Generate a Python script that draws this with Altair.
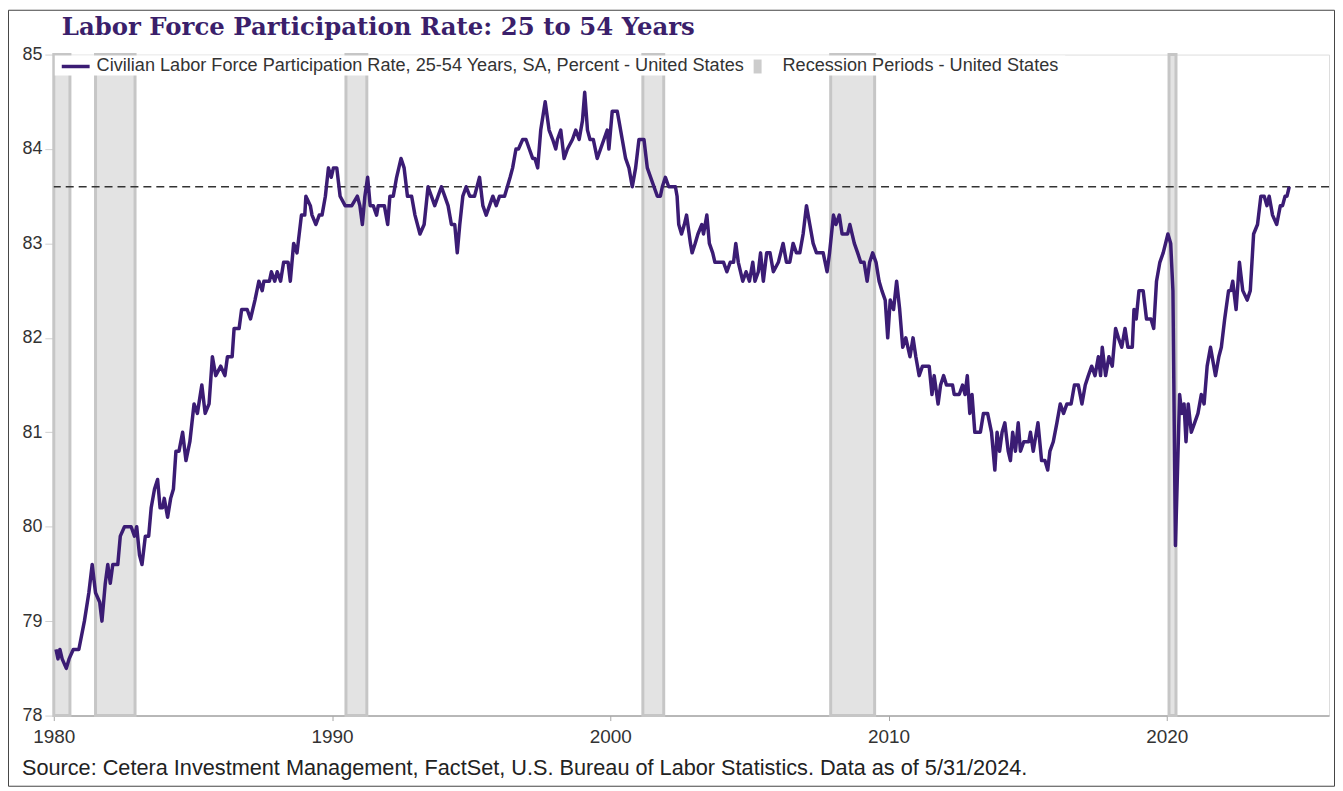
import altair as alt
import pandas as pd

# ---------------- data ----------------
TITLE = "Labor Force Participation Rate: 25 to 54 Years"
SERIES_NAME = "Civilian Labor Force Participation Rate, 25-54  Years, SA, Percent - United States"
REC_NAME = "Recession Periods - United States"
SOURCE = "Source: Cetera Investment Management, FactSet, U.S. Bureau of Labor Statistics.  Data as of 5/31/2024."

years = [
    1980.08, 1980.15, 1980.22, 1980.30, 1980.45, 1980.55, 1980.70, 1980.90,
    1981.10, 1981.26, 1981.38, 1981.50, 1981.65, 1981.73, 1981.85, 1981.94,
    1982.03, 1982.12, 1982.30, 1982.39, 1982.54, 1982.78, 1982.90, 1982.98,
    1983.08, 1983.17, 1983.29, 1983.41, 1983.50, 1983.62, 1983.73, 1983.82, 1983.91, 1983.97,
    1984.09, 1984.20, 1984.30, 1984.39, 1984.50, 1984.63, 1984.75, 1984.89,
    1985.04, 1985.16, 1985.32, 1985.44, 1985.58, 1985.70, 1985.82,
    1986.00, 1986.15, 1986.24, 1986.41, 1986.48, 1986.66, 1986.75, 1986.95,
    1987.07, 1987.23, 1987.37, 1987.49, 1987.55, 1987.75, 1987.82, 1987.94,
    1988.03, 1988.15, 1988.26, 1988.42, 1988.50, 1988.62, 1988.74, 1988.90,
    1989.02, 1989.06, 1989.22, 1989.28, 1989.42, 1989.54, 1989.64, 1989.76, 1989.87, 1989.97,
    1990.05, 1990.17, 1990.29, 1990.47, 1990.71, 1990.91,
    1991.00, 1991.09, 1991.18, 1991.28, 1991.37, 1991.48, 1991.60, 1991.66, 1991.88,
    1992.00, 1992.08, 1992.20, 1992.32, 1992.48, 1992.59, 1992.71, 1992.86, 1992.98,
    1993.16, 1993.31, 1993.45, 1993.57, 1993.69, 1993.81, 1993.93,
    1994.05, 1994.17, 1994.29, 1994.41, 1994.50, 1994.59, 1994.70, 1994.82, 1994.95,
    1995.12, 1995.30, 1995.42, 1995.54, 1995.66, 1995.78, 1995.90,
    1996.02, 1996.20, 1996.30, 1996.40, 1996.49, 1996.61, 1996.70, 1996.85, 1996.97,
    1997.09, 1997.21, 1997.29, 1997.39, 1997.50, 1997.66, 1997.80, 1997.93,
    1998.04, 1998.10, 1998.22, 1998.34, 1998.46, 1998.64, 1998.76, 1998.88,
    1999.00, 1999.08, 1999.18, 1999.27, 1999.39, 1999.53, 1999.65, 1999.77, 1999.89, 1999.95,
    2000.07, 2000.25, 2000.31, 2000.43, 2000.55, 2000.67, 2000.79, 2000.91,
    2001.03, 2001.21, 2001.33, 2001.45, 2001.57, 2001.69, 2001.80, 2001.87, 2001.98,
    2002.10, 2002.22, 2002.34, 2002.40, 2002.46, 2002.56, 2002.66, 2002.74, 2002.88, 2002.94,
    2003.05, 2003.15, 2003.29, 2003.35, 2003.47, 2003.56, 2003.68, 2003.76, 2003.94,
    2004.07, 2004.19, 2004.31, 2004.43, 2004.51, 2004.60, 2004.76, 2004.88,
    2005.00, 2005.12, 2005.20, 2005.32, 2005.40, 2005.50, 2005.62, 2005.74, 2005.86,
    2006.04, 2006.21, 2006.33, 2006.45, 2006.57, 2006.69, 2006.81, 2006.93,
    2007.05, 2007.17, 2007.29, 2007.41, 2007.53, 2007.65, 2007.79, 2007.88,
    2008.02, 2008.11, 2008.23, 2008.33, 2008.53, 2008.61, 2008.77, 2008.89,
    2009.00, 2009.12, 2009.23, 2009.32, 2009.43, 2009.55, 2009.66, 2009.76, 2009.88, 2009.97,
    2010.06, 2010.18, 2010.29, 2010.40, 2010.51, 2010.62, 2010.77, 2010.88, 2010.98,
    2011.10, 2011.22, 2011.46, 2011.56, 2011.64, 2011.78, 2011.87, 2011.98,
    2012.08, 2012.30, 2012.36, 2012.54, 2012.66, 2012.75, 2012.83, 2012.92,
    2013.00, 2013.10, 2013.30, 2013.41, 2013.56, 2013.70, 2013.82, 2013.90, 2013.99,
    2014.08, 2014.18, 2014.30, 2014.38, 2014.46, 2014.56, 2014.66, 2014.74, 2014.86,
    2015.04, 2015.10, 2015.20, 2015.37, 2015.50, 2015.62, 2015.72, 2015.80, 2015.92,
    2016.05, 2016.17, 2016.29, 2016.41, 2016.56, 2016.68, 2016.82, 2016.95,
    2017.07, 2017.18, 2017.30, 2017.42, 2017.54, 2017.62, 2017.68, 2017.80, 2017.92,
    2018.04, 2018.16, 2018.26, 2018.38, 2018.50, 2018.60, 2018.76, 2018.82, 2018.90,
    2019.00, 2019.15, 2019.27, 2019.43, 2019.53, 2019.63, 2019.75, 2019.87,
    2020.04, 2020.14, 2020.22, 2020.31, 2020.46, 2020.54, 2020.62, 2020.69, 2020.77, 2020.88,
    2021.00, 2021.12, 2021.24, 2021.34, 2021.45, 2021.57, 2021.75, 2021.87, 2021.96,
    2022.08, 2022.22, 2022.30, 2022.37, 2022.49, 2022.61, 2022.73, 2022.89,
    2023.00, 2023.12, 2023.26, 2023.38, 2023.50, 2023.60, 2023.68, 2023.80, 2023.95,
    2024.08, 2024.16, 2024.25, 2024.32, 2024.40,
]

rates = [
    78.7, 78.6, 78.7, 78.6, 78.5, 78.6, 78.7, 78.7,
    79.0, 79.3, 79.6, 79.3, 79.2, 79.0, 79.4, 79.6,
    79.4, 79.6, 79.6, 79.9, 80.0, 80.0, 79.9, 80.0,
    79.7, 79.6, 79.9, 79.9, 80.2, 80.4, 80.5, 80.2, 80.2, 80.3,
    80.1, 80.3, 80.4, 80.8, 80.8, 81.0, 80.7, 80.9,
    81.3, 81.2, 81.5, 81.2, 81.3, 81.8, 81.6,
    81.7, 81.6, 81.8, 81.8, 82.1, 82.1, 82.3, 82.3,
    82.2, 82.4, 82.6, 82.5, 82.6, 82.6, 82.7, 82.6,
    82.7, 82.6, 82.8, 82.8, 82.6, 83.0, 82.9, 83.3,
    83.3, 83.5, 83.4, 83.3, 83.2, 83.3, 83.3, 83.5, 83.8, 83.7,
    83.8, 83.8, 83.5, 83.4, 83.4, 83.5,
    83.4, 83.2, 83.5, 83.7, 83.4, 83.4, 83.3, 83.4, 83.4,
    83.2, 83.5, 83.5, 83.7, 83.9, 83.8, 83.5, 83.5, 83.3,
    83.1, 83.2, 83.6, 83.5, 83.4, 83.5, 83.6,
    83.5, 83.4, 83.2, 83.2, 82.9, 83.2, 83.5, 83.6, 83.5,
    83.5, 83.7, 83.4, 83.3, 83.4, 83.5, 83.4,
    83.5, 83.5, 83.6, 83.7, 83.8, 84.0, 84.0, 84.1, 84.1,
    84.0, 83.9, 83.9, 83.8, 84.2, 84.5, 84.2, 84.1,
    84.0, 84.1, 84.2, 83.9, 84.0, 84.1, 84.2, 84.1,
    84.3, 84.6, 84.2, 84.1, 84.1, 83.9, 84.0, 84.1, 84.2, 84.0,
    84.4, 84.4, 84.3, 84.1, 83.9, 83.8, 83.6, 83.8,
    84.1, 84.1, 83.8, 83.7, 83.6, 83.5, 83.5, 83.6, 83.7,
    83.6, 83.6, 83.6, 83.5, 83.2, 83.1, 83.2, 83.3, 83.0, 82.9,
    83.0, 83.1, 83.2, 83.1, 83.3, 83.0, 82.9, 82.8, 82.8,
    82.8, 82.7, 82.8, 82.8, 83.0, 82.8, 82.6, 82.7,
    82.6, 82.8, 82.6, 82.7, 82.9, 82.6, 82.9, 82.9, 82.7,
    82.8, 83.0, 82.8, 82.8, 83.0, 82.9, 82.9, 83.1,
    83.4, 83.2, 83.0, 82.9, 82.9, 82.9, 82.7, 82.9,
    83.3, 83.2, 83.3, 83.1, 83.1, 83.2, 83.0, 82.9,
    82.8, 82.8, 82.6, 82.8, 82.9, 82.8, 82.6, 82.5, 82.4, 82.0,
    82.4, 82.3, 82.6, 82.3, 81.9, 82.0, 81.8, 82.0, 81.8,
    81.6, 81.7, 81.7, 81.4, 81.6, 81.3, 81.5, 81.6,
    81.5, 81.5, 81.4, 81.4, 81.5, 81.4, 81.6, 81.2,
    81.4, 81.0, 81.0, 81.2, 81.2, 81.0, 80.6, 81.0, 80.8,
    81.0, 81.1, 80.8, 80.7, 81.0, 80.8, 81.1, 80.8, 80.9,
    80.9, 81.0, 80.8, 81.1, 80.7, 80.7, 80.6, 80.8, 80.9,
    81.1, 81.3, 81.2, 81.3, 81.3, 81.5, 81.5, 81.3,
    81.5, 81.6, 81.7, 81.6, 81.8, 81.6, 81.9, 81.6, 81.8,
    81.7, 82.1, 82.0, 81.9, 82.1, 81.9, 81.9, 82.3, 82.2,
    82.5, 82.5, 82.2, 82.2, 82.1, 82.6, 82.8, 82.9,
    83.1, 83.0, 82.5, 79.8, 81.4, 81.2, 81.3, 80.9, 81.3, 81.0,
    81.1, 81.2, 81.4, 81.3, 81.7, 81.9, 81.6, 81.8, 81.9,
    82.2, 82.5, 82.5, 82.6, 82.3, 82.8, 82.5, 82.4,
    82.5, 83.1, 83.2, 83.5, 83.5, 83.4, 83.5, 83.3, 83.2,
    83.4, 83.4, 83.5, 83.5, 83.6,
]

rec_start = [1980.00, 1981.50, 1990.50, 2001.17, 2007.92, 2020.08]
rec_end = [1980.58, 1982.92, 1991.25, 2001.92, 2009.50, 2020.33]
reference_level = 83.6
x_ticks = [1980, 1990, 2000, 2010, 2020]
y_ticks = [78, 79, 80, 81, 82, 83, 84, 85]

# ---------------- styling ----------------
W, H = 1281, 664
LINE_COLOR = "#3b1c74"
TITLE_COLOR = "#3b1f6b"
TEXT_COLOR = "#333333"
SANS = "Liberation Sans"

series = pd.DataFrame({"year": years, "rate": rates})
rec = pd.DataFrame({"start": rec_start, "end": rec_end})
ref = pd.DataFrame({"level": [reference_level]})
one = pd.DataFrame({"k": [0]})

xscale = alt.Scale(domain=[1980, 2025.83], nice=False, zero=False)
yscale = alt.Scale(domain=[78, 85], nice=False, zero=False)

xaxis = alt.Axis(values=x_ticks, format="d", title=None, grid=False,
                 labelFont=SANS, labelFontSize=19, labelColor=TEXT_COLOR,
                 tickSize=5, tickColor="#a6a6a6", labelPadding=7, labelFlush=False,
                 domainColor="#a6a6a6", domainWidth=1.5)
yaxis = alt.Axis(values=y_ticks, format="d", title=None, grid=False,
                 labelFont=SANS, labelFontSize=18, labelColor=TEXT_COLOR,
                 tickSize=9, tickColor="#d0d0d0", labelPadding=3, labelFlush=False,
                 domain=False)

bands = alt.Chart(rec).mark_rect(fill="#e3e3e3", stroke="#c6c6c6", strokeWidth=3).encode(
    x=alt.X("start:Q", scale=xscale, axis=xaxis),
    x2="end:Q",
    y=alt.value(0),
    y2=alt.value(H),
)

ref_line = alt.Chart(ref).mark_rule(color="#333333", strokeWidth=1.3, strokeDash=[8, 5]).encode(
    y=alt.Y("level:Q", scale=yscale, axis=yaxis),
)

line = alt.Chart(series).mark_line(color=LINE_COLOR, strokeWidth=3.5, strokeJoin="round").encode(
    x=alt.X("year:Q", scale=xscale, axis=xaxis),
    y=alt.Y("rate:Q", scale=yscale, axis=yaxis),
)

legend_box = alt.Chart(one).mark_rect(fill="white").encode(
    x=alt.value(1), x2=alt.value(1016), y=alt.value(1), y2=alt.value(21)
)
legend_line = alt.Chart(one).mark_rule(color=LINE_COLOR, strokeWidth=3.5).encode(
    x=alt.value(8), x2=alt.value(36), y=alt.value(12)
)
legend_text1 = alt.Chart(one).mark_text(
    align="left", baseline="middle", font=SANS, fontSize=18.2, color=TEXT_COLOR
).encode(x=alt.value(43), y=alt.value(12), text=alt.value(SERIES_NAME))
legend_rec = alt.Chart(one).mark_rect(fill="#cccccc").encode(
    x=alt.value(703), x2=alt.value(711), y=alt.value(5), y2=alt.value(19)
)
legend_text2 = alt.Chart(one).mark_text(
    align="left", baseline="middle", font=SANS, fontSize=18.2, color=TEXT_COLOR
).encode(x=alt.value(732), y=alt.value(12), text=alt.value(REC_NAME))

title = alt.Chart(one).mark_text(
    align="left", baseline="alphabetic", font="DejaVu Serif", fontSize=24.5,
    fontWeight="bold", color=TITLE_COLOR
).encode(x=alt.value(8), y=alt.value(-20), text=alt.value(TITLE))

source = alt.Chart(one).mark_text(
    align="left", baseline="alphabetic", font=SANS, fontSize=21.8, color="#222222"
).encode(x=alt.value(-32), y=alt.value(724), text=alt.value(SOURCE))

border = alt.Chart(one).mark_rect(fill=None, stroke="#444444", strokeWidth=1).encode(
    x=alt.value(-45.5), x2=alt.value(W + 5.5), y=alt.value(-44.5), y2=alt.value(H + 71)
)

chart = alt.layer(
    bands, ref_line, line, legend_box, legend_line, legend_text1, legend_rec,
    legend_text2, title, source, border
).properties(
    width=W, height=H,
    autosize=alt.AutoSizeParams(type="none"),
    padding={"left": 46, "top": 45, "right": 6, "bottom": 72},
).configure_view(
    stroke="#d9d9d9", strokeWidth=1
).configure(background="white")

chart.save("out.html", embed_options={"renderer": "svg", "actions": False})
